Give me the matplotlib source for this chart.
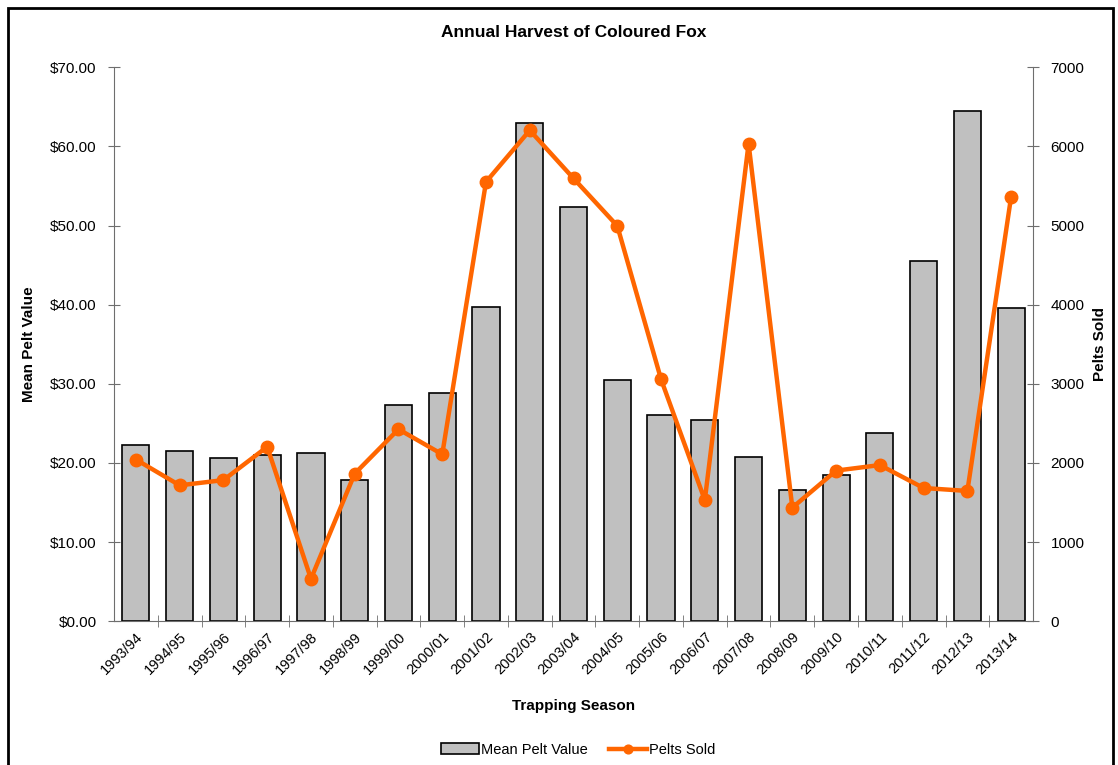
import matplotlib
matplotlib.use("Agg")
import matplotlib.pyplot as plt
from matplotlib.patches import Rectangle
from matplotlib.ticker import FuncFormatter

plt.rcParams['font.family'] = ['Liberation Sans', 'DejaVu Sans']

# data
seasons = ['1993/94', '1994/95', '1995/96', '1996/97', '1997/98', '1998/99', '1999/00',
           '2000/01', '2001/02', '2002/03', '2003/04', '2004/05', '2005/06', '2006/07',
           '2007/08', '2008/09', '2009/10', '2010/11', '2011/12', '2012/13', '2013/14']
mean_pelt_value = [22.3, 21.5, 20.6, 21.0, 21.3, 17.9, 27.3, 28.9, 39.7, 63.0, 52.3,
                   30.5, 26.1, 25.4, 20.7, 16.6, 18.5, 23.8, 45.5, 64.5, 39.6]
pelts_sold = [2043, 1717, 1783, 2204, 535, 1865, 2426, 2109, 5552, 6204, 5596,
              4996, 3057, 1530, 6035, 1435, 1903, 1973, 1683, 1646, 5367]

AXIS_GREY = '#6e6e6e'
ORANGE = '#ff6600'

fig = plt.figure(figsize=(11.18, 7.65), dpi=100)
ax = fig.add_axes([0.102, 0.188, 0.822, 0.724])
x = range(len(seasons))

bars = ax.bar(x, mean_pelt_value, width=0.62, color='#c0c0c0', edgecolor='black',
              linewidth=1.2, label='Mean Pelt Value', zorder=2)
ax.set_xlim(-0.5, len(seasons) - 0.5)
ax.set_ylim(0, 70)
ax.set_yticks(range(0, 71, 10))
ax.yaxis.set_major_formatter(FuncFormatter(lambda v, p: '${:.2f}'.format(v)))
ax.set_xticks(list(x))
ax.set_xticklabels(seasons, rotation=45, ha='right', rotation_mode='anchor', fontsize=10.5)
ax.tick_params(axis='x', length=0, pad=6)
ax.set_xticks([i + 0.5 for i in range(len(seasons) - 1)], minor=True)
ax.tick_params(axis='x', which='minor', direction='inout', length=8, color=AXIS_GREY)
ax.tick_params(axis='y', direction='inout', length=9, color=AXIS_GREY, labelsize=11, pad=8)
for s in ['top', 'right']:
    ax.spines[s].set_visible(False)
for s in ['left', 'bottom']:
    ax.spines[s].set_color(AXIS_GREY)

ax2 = ax.twinx()
line, = ax2.plot(x, pelts_sold, color=ORANGE, linewidth=3.2, marker='o', markersize=9,
                 label='Pelts Sold', zorder=3)
ax2.set_ylim(0, 7000)
ax2.set_yticks(range(0, 7001, 1000))
ax2.tick_params(axis='y', direction='inout', length=9, color=AXIS_GREY, labelsize=11, pad=8)
for s in ['top', 'left', 'bottom']:
    ax2.spines[s].set_visible(False)
ax2.spines['right'].set_color(AXIS_GREY)

ax.set_title('Annual Harvest of Coloured Fox', fontsize=12.5, fontweight='bold', pad=22)
ax.set_ylabel('Mean Pelt Value', fontsize=11, fontweight='bold', labelpad=10)
ax2.set_ylabel('Pelts Sold', fontsize=11, fontweight='bold', labelpad=6)
ax.set_xlabel('Trapping Season', fontsize=11, fontweight='bold', labelpad=16)

fig.legend([bars, line], ['Mean Pelt Value', 'Pelts Sold'], loc='center',
           bbox_to_anchor=(0.517, 0.02), ncol=2, frameon=False, fontsize=10.5,
           handlelength=2.6, handletextpad=0.1, columnspacing=1.5, markerscale=0.7)

# outer frame around the chart
fig.add_artist(Rectangle((8 / 1118, -0.05), 1105 / 1118, 1.05 - 8 / 765,
                         transform=fig.transFigure, fill=False, edgecolor='black',
                         linewidth=2, clip_on=False))

fig.savefig('out.png', dpi=100)
